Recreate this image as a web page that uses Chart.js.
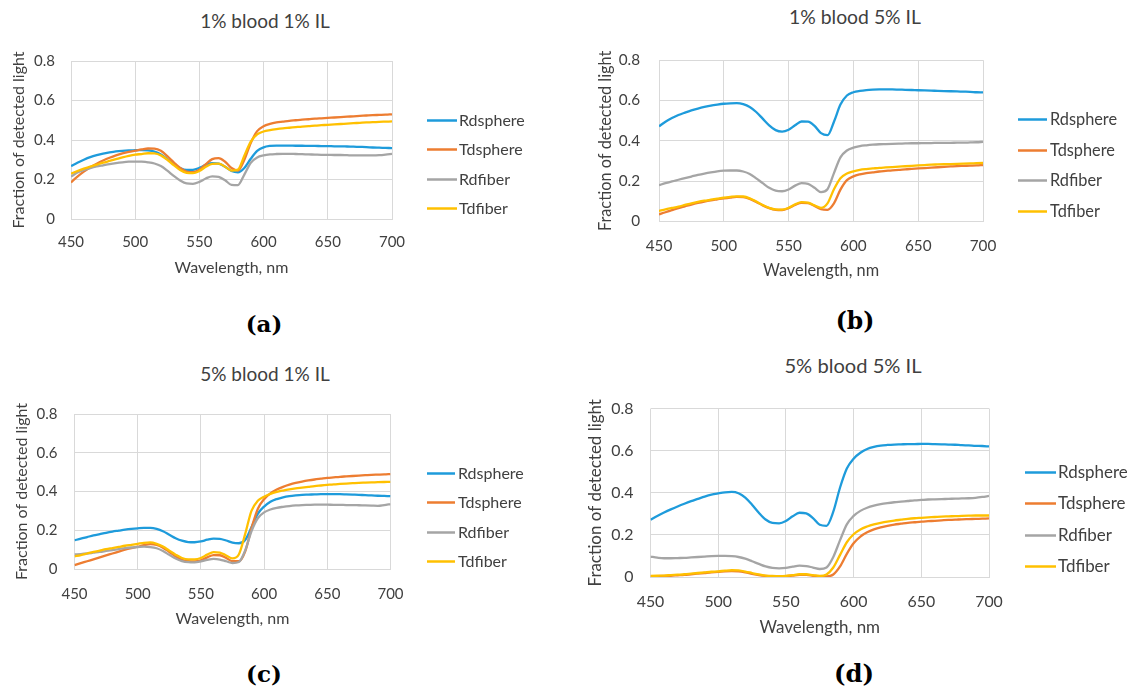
<!DOCTYPE html>
<html>
<head>
<meta charset="utf-8">
<script src="https://cdn.jsdelivr.net/npm/chart.js@4.4.0/dist/chart.umd.min.js"></script>
<style>
  body { margin: 0; background: #fff; }
  #page { position: relative; width: 1132px; height: 693px; overflow: hidden; }
  .panel { position: absolute; }
  .ttl { position: absolute; width: 300px; text-align: center; font-family: Lato, "Open Sans", sans-serif; color: #404040; line-height: 24px; white-space: nowrap; }
  .tag { position: absolute; width: 80px; text-align: center; font-family: "DejaVu Serif", serif; font-weight: bold; color: #000; line-height: 30px; }
</style>
</head>
<body>
<div id="page"></div>
<script>
// wavelengths, nm
const wavelengths = [450,455,460,465,470,475,480,485,490,495,500,505,510,515,520,525,530,535,540,545,550,555,560,565,570,575,580,585,590,595,600,605,610,615,620,625,630,635,640,645,650,655,660,665,670,675,680,685,690,695,700];
const seriesNames = ["Rdsphere", "Tdsphere", "Rdfiber", "Tdfiber"];
const xTicks = [450, 500, 550, 600, 650, 700];
const yTicks = [0, 0.2, 0.4, 0.6, 0.8];

// (a) 1% blood 1% IL
const a_Rdsphere = [.268,.285,.300,.313,.323,.331,.337,.342,.345,.347,.348,.349,.347,.341,.327,.303,.278,.258,.248,.249,.259,.274,.283,.280,.265,.243,.236,.258,.305,.345,.363,.370,.372,.372,.372,.371,.371,.370,.370,.369,.369,.368,.368,.367,.366,.365,.364,.362,.361,.360,.359];
const a_Tdsphere = [.185,.215,.240,.262,.280,.296,.310,.322,.332,.340,.346,.352,.357,.356,.345,.318,.287,.258,.240,.237,.250,.278,.303,.308,.290,.258,.245,.300,.385,.445,.470,.482,.489,.493,.497,.500,.503,.505,.508,.510,.512,.514,.516,.518,.520,.522,.524,.526,.527,.528,.530];
const a_Rdfiber = [.215,.235,.248,.258,.266,.272,.278,.283,.287,.290,.291,.290,.287,.281,.268,.245,.218,.195,.180,.178,.188,.205,.216,.213,.196,.173,.172,.225,.285,.312,.322,.327,.329,.330,.330,.329,.328,.327,.326,.325,.325,.324,.324,.323,.322,.322,.322,.322,.323,.326,.330];
const a_Tdfiber = [.230,.243,.255,.265,.275,.285,.294,.303,.312,.320,.326,.329,.333,.332,.322,.300,.273,.248,.234,.232,.243,.264,.279,.280,.265,.245,.250,.320,.392,.428,.443,.450,.455,.459,.462,.465,.468,.470,.473,.475,.477,.479,.481,.483,.485,.487,.489,.490,.492,.493,.494];

// (b) 1% blood 5% IL
const b_Rdsphere = [.472,.495,.513,.528,.540,.551,.560,.568,.575,.580,.584,.586,.587,.582,.568,.543,.510,.477,.453,.446,.455,.477,.496,.495,.474,.438,.428,.495,.580,.625,.641,.648,.652,.654,.655,.655,.655,.654,.653,.652,.651,.650,.649,.648,.647,.646,.645,.644,.643,.641,.640];
const b_Tdsphere = [.035,.046,.056,.066,.075,.084,.092,.099,.105,.110,.115,.119,.122,.121,.112,.097,.080,.066,.058,.057,.066,.082,.093,.091,.077,.061,.058,.090,.158,.205,.224,.234,.240,.244,.248,.251,.254,.256,.259,.261,.263,.265,.267,.269,.271,.273,.275,.276,.277,.278,.280];
const b_Rdfiber = [.180,.190,.199,.207,.215,.223,.231,.238,.244,.249,.252,.253,.253,.248,.236,.214,.190,.167,.153,.150,.159,.178,.190,.187,.167,.146,.160,.240,.318,.352,.366,.374,.378,.381,.383,.384,.385,.386,.387,.388,.388,.389,.389,.390,.390,.390,.391,.391,.392,.393,.395];
const b_Tdfiber = [.052,.060,.067,.074,.082,.090,.097,.103,.108,.113,.118,.122,.125,.124,.115,.099,.082,.068,.060,.059,.068,.085,.096,.094,.080,.068,.090,.160,.215,.238,.249,.256,.260,.263,.266,.268,.270,.272,.274,.276,.278,.280,.282,.283,.284,.285,.286,.287,.288,.289,.290];

// (c) 5% blood 1% IL
const c_Rdsphere = [.148,.157,.165,.173,.180,.187,.193,.198,.203,.207,.210,.212,.212,.207,.195,.177,.159,.146,.139,.138,.142,.151,.157,.156,.147,.136,.133,.150,.215,.285,.322,.347,.361,.370,.376,.380,.383,.384,.385,.386,.386,.386,.386,.385,.384,.383,.381,.380,.378,.377,.376];
const c_Tdsphere = [.020,.030,.040,.050,.060,.070,.080,.090,.100,.108,.115,.123,.128,.124,.110,.088,.065,.048,.040,.039,.045,.060,.072,.071,.057,.040,.040,.090,.210,.310,.360,.390,.410,.424,.435,.444,.451,.457,.462,.466,.470,.473,.476,.478,.480,.482,.484,.486,.487,.488,.490];
const c_Rdfiber = [.075,.077,.080,.084,.088,.093,.098,.103,.108,.111,.113,.115,.113,.107,.093,.073,.054,.041,.035,.034,.039,.047,.052,.049,.040,.031,.036,.095,.195,.262,.292,.307,.316,.321,.325,.328,.330,.331,.332,.332,.332,.331,.331,.330,.330,.329,.328,.327,.326,.330,.335];
const c_Tdfiber = [.065,.072,.080,.088,.095,.102,.108,.114,.120,.125,.130,.135,.137,.130,.116,.095,.074,.057,.050,.050,.057,.074,.087,.085,.070,.055,.075,.180,.300,.352,.373,.388,.398,.405,.411,.416,.420,.424,.428,.431,.434,.437,.439,.441,.443,.445,.446,.447,.448,.449,.450];

// (d) 5% blood 5% IL
const d_Rdsphere = [.272,.290,.306,.321,.335,.348,.360,.371,.382,.391,.397,.402,.404,.398,.377,.343,.305,.273,.257,.255,.266,.288,.305,.302,.280,.248,.243,.310,.425,.515,.562,.590,.608,.618,.624,.627,.629,.630,.631,.631,.632,.632,.631,.630,.629,.628,.626,.625,.623,.622,.620];
const d_Tdsphere = [.003,.004,.005,.006,.008,.010,.013,.016,.019,.022,.024,.027,.028,.027,.022,.015,.009,.005,.003,.003,.004,.007,.010,.010,.006,.003,.003,.012,.050,.110,.160,.192,.212,.226,.236,.243,.249,.253,.257,.260,.263,.265,.267,.269,.271,.272,.274,.275,.276,.277,.278];
const d_Rdfiber = [.097,.092,.089,.089,.090,.091,.093,.095,.097,.099,.100,.100,.099,.095,.087,.075,.062,.050,.043,.041,.043,.049,.054,.052,.045,.038,.045,.095,.175,.250,.290,.314,.329,.339,.346,.351,.355,.358,.361,.364,.366,.368,.369,.370,.371,.372,.373,.374,.376,.380,.385];
const d_Tdfiber = [.005,.006,.007,.009,.011,.013,.016,.019,.022,.025,.027,.030,.032,.031,.026,.019,.012,.007,.005,.004,.005,.009,.013,.013,.009,.005,.012,.045,.105,.165,.203,.226,.240,.250,.257,.263,.268,.272,.276,.279,.281,.283,.285,.287,.288,.289,.290,.291,.292,.292,.292];

const colors = ["#1E9BDB", "#ED7D31", "#A5A5A5", "#FFC000"];
const fontFamily = "Lato, 'Open Sans', sans-serif";
const textColor = "#404040";
const gridColor = "#D9D9D9";

// page layout in px: canvas box [left, top, w, h], plot area [left, top, right, bottom]
const panels = [
  { tag: "(a)", title: "1% blood 1% IL", series: [a_Rdsphere, a_Tdsphere, a_Rdfiber, a_Tdfiber],
    box: [0, 36, 560, 250], plot: [71, 53, 392, 219], yPad: 16, xPad: 14, xTitleY: 268, yTitleX: 19,
    titleAt: [265, 21], tagAt: [264, 324], legend: { x1: 427, x2: 457, tx: 459, y: 120, gap: 29.3 }, k: 1 },
  { tag: "(b)", title: "1% blood 5% IL", series: [b_Rdsphere, b_Tdsphere, b_Rdfiber, b_Tdfiber],
    box: [566, 32, 566, 256], plot: [659, 50, 983, 221.5], yPad: 19, xPad: 15, xTitleY: 271, yTitleX: 606,
    titleAt: [855, 17], tagAt: [855, 321], legend: { x1: 1018, x2: 1047, tx: 1050, y: 119, gap: 30.7 }, k: 1.02 },
  { tag: "(c)", title: "5% blood 1% IL", series: [c_Rdsphere, c_Tdsphere, c_Rdfiber, c_Tdfiber],
    box: [0, 388, 560, 250], plot: [74.5, 405, 390.5, 569], yPad: 17, xPad: 16, xTitleY: 619, yTitleX: 22,
    titleAt: [265, 374], tagAt: [264, 674], legend: { x1: 427, x2: 455, tx: 458, y: 473, gap: 29.3 }, k: 1 },
  { tag: "(d)", title: "5% blood 5% IL", series: [d_Rdsphere, d_Tdsphere, d_Rdfiber, d_Tdfiber],
    box: [566, 382, 566, 262], plot: [650.5, 399, 989, 577], yPad: 17, xPad: 15, xTitleY: 628, yTitleX: 596,
    titleAt: [853, 365], tagAt: [854, 674], legend: { x1: 1025, x2: 1056, tx: 1058, y: 472, gap: 31.3 }, k: 1.06 }
];

// legend drawn beside the plot, one short line + label per dataset
const sideLegend = {
  id: "sideLegend",
  afterDraw(chart, args, opts) {
    const ctx = chart.ctx;
    ctx.save();
    ctx.font = opts.size + "px " + fontFamily;
    ctx.textBaseline = "middle";
    ctx.textAlign = "left";
    chart.data.datasets.forEach((ds, i) => {
      const y = Math.round(opts.y + i * opts.gap) + 0.5;
      ctx.strokeStyle = ds.borderColor;
      ctx.lineWidth = 2.5;
      ctx.beginPath();
      ctx.moveTo(opts.x1, y);
      ctx.lineTo(opts.x2, y);
      ctx.stroke();
      ctx.fillStyle = textColor;
      ctx.fillText(ds.label, opts.tx, y);
    });
    ctx.restore();
  }
};

function makePanel(p) {
  const page = document.getElementById("page");
  const [L, T, W, H] = p.box;
  const [pl, pt, pr, pb] = p.plot;
  const tickSize = 15 * p.k, labelSize = 16 * p.k, titleSize = 19 * p.k;
  const lh = labelSize * 1.2;

  const wrap = document.createElement("div");
  wrap.className = "panel";
  wrap.style.left = L + "px";
  wrap.style.top = T + "px";
  const canvas = document.createElement("canvas");
  canvas.width = W;
  canvas.height = H;
  wrap.appendChild(canvas);
  page.appendChild(wrap);

  const ttl = document.createElement("div");
  ttl.className = "ttl";
  ttl.textContent = p.title;
  ttl.style.fontSize = titleSize + "px";
  ttl.style.left = (p.titleAt[0] - 150) + "px";
  ttl.style.top = (p.titleAt[1] - 12) + "px";
  page.appendChild(ttl);

  const tag = document.createElement("div");
  tag.className = "tag";
  tag.textContent = p.tag;
  tag.style.fontSize = (23 * p.k) + "px";
  tag.style.left = (p.tagAt[0] - 40) + "px";
  tag.style.top = (p.tagAt[1] - 15) + "px";
  page.appendChild(tag);

  const datasets = p.series.map((vals, i) => ({
    label: seriesNames[i],
    data: wavelengths.map((w, j) => ({ x: w, y: vals[j] })),
    borderColor: colors[i],
    backgroundColor: colors[i],
    borderWidth: 2.3,
    pointRadius: 0,
    cubicInterpolationMode: "monotone",
    order: 3 - i
  }));

  new Chart(canvas, {
    type: "line",
    data: { datasets: datasets },
    plugins: [sideLegend],
    options: {
      responsive: false,
      animation: false,
      events: [],
      layout: { padding: { top: pt - T, right: L + W - pr, bottom: 0, left: 0 } },
      plugins: {
        legend: { display: false },
        tooltip: { enabled: false },
        sideLegend: {
          x1: p.legend.x1 - L, x2: p.legend.x2 - L, tx: p.legend.tx - L,
          y: p.legend.y - T, gap: p.legend.gap, size: labelSize
        }
      },
      scales: {
        x: {
          type: "linear",
          min: 450,
          max: 700,
          afterBuildTicks: s => { s.ticks = xTicks.map(v => ({ value: v })); },
          afterFit: s => { s.height = T + H - pb; },
          grid: { color: gridColor, drawTicks: false },
          border: { color: gridColor },
          ticks: { padding: p.xPad, color: textColor, font: { family: fontFamily, size: tickSize } },
          title: {
            display: true, text: "Wavelength, nm", color: textColor,
            font: { family: fontFamily, size: labelSize },
            padding: { top: 0, bottom: T + H - p.xTitleY - lh / 2 }
          }
        },
        y: {
          min: 0,
          max: 0.8,
          afterBuildTicks: s => { s.ticks = yTicks.map(v => ({ value: v })); },
          afterFit: s => { s.width = pl - L; },
          grid: { color: gridColor, drawTicks: false },
          border: { display: false },
          ticks: { padding: p.yPad, color: textColor, font: { family: fontFamily, size: tickSize } },
          title: {
            display: true, text: "Fraction of detected light", color: textColor,
            font: { family: fontFamily, size: labelSize },
            padding: { top: p.yTitleX - L - lh / 2, bottom: 0 }
          }
        }
      }
    }
  });
}

panels.forEach(makePanel);
</script>
</body>
</html>
